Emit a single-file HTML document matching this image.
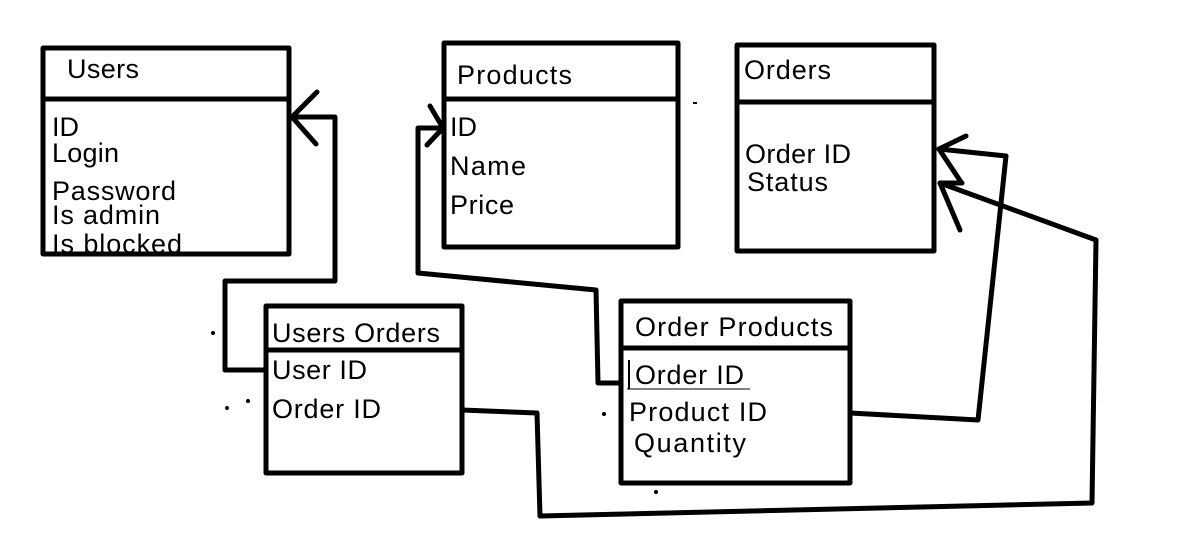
<!DOCTYPE html>
<html><head><meta charset="utf-8"><style>
body{margin:0;background:#fff;width:1180px;height:528px;overflow:hidden}
svg text{font-family:"Liberation Sans",sans-serif;font-size:27px;fill:#000}
</style></head><body>
<svg width="1180" height="528" viewBox="0 0 1180 528" xmlns="http://www.w3.org/2000/svg">
<g fill="none" stroke="#000" stroke-width="5" stroke-linecap="round" stroke-linejoin="round">
<rect x="43" y="48" width="246" height="206"/>
<line x1="43" y1="99" x2="289" y2="99"/>
<rect x="444" y="43" width="234" height="204"/>
<line x1="444" y1="99" x2="678" y2="99"/>
<rect x="737" y="45" width="197" height="206"/>
<line x1="737" y1="102" x2="934" y2="102"/>
<rect x="266" y="306" width="196" height="167"/>
<line x1="266" y1="350" x2="462" y2="350"/>
<rect x="621" y="301" width="229" height="182"/>
<line x1="621" y1="348" x2="850" y2="348"/>
<polyline points="266,370 225,370 225,281 335,281 335,117 292,117"/>
<line x1="292" y1="117" x2="317" y2="92"/>
<line x1="292" y1="117" x2="316" y2="144"/>
<polyline points="621,383 598,383 596,290 418,273 418,128 443,128"/>
<line x1="443" y1="128" x2="430" y2="106"/>
<line x1="443" y1="128" x2="427" y2="145"/>
<polyline points="850,413 978,420 1006,156 939,149"/>
<line x1="939" y1="149" x2="966" y2="136"/>
<line x1="939" y1="149" x2="961" y2="182"/>
<polyline points="462,410 537,413 540,516 1092,503 1096,240 940,183"/>
<line x1="940" y1="183" x2="962" y2="183"/>
<line x1="940" y1="183" x2="960" y2="230"/>
</g>
<line x1="627" y1="389" x2="750" y2="389" stroke="#000" stroke-width="1"/>
<line x1="629" y1="360" x2="629" y2="389" stroke="#000" stroke-width="2"/>
<g fill="#000">
<circle cx="213" cy="333" r="2"/><circle cx="227" cy="408" r="2"/><circle cx="248" cy="401" r="2"/>
<circle cx="604" cy="414" r="2"/><circle cx="656" cy="492" r="2"/><rect x="693" y="102" width="4" height="2"/>
</g>
<g textLength="">
<text x="67" y="78" textLength="72">Users</text>
<text x="52" y="136">ID</text>
<text x="52" y="162" textLength="67">Login</text>
<text x="52" y="200" textLength="124">Password</text>
<text x="52" y="224" textLength="108">Is admin</text>
<text x="52" y="253" textLength="130">Is blocked</text>
<text x="457" y="84" textLength="115">Products</text>
<text x="450" y="136">ID</text>
<text x="450" y="175" textLength="76">Name</text>
<text x="450" y="214" textLength="64">Price</text>
<text x="744" y="79" textLength="87">Orders</text>
<text x="745" y="163" textLength="106">Order ID</text>
<text x="747" y="191" textLength="81">Status</text>
<text x="272" y="342" textLength="168">Users Orders</text>
<text x="272" y="379" textLength="95">User ID</text>
<text x="272" y="418" textLength="109">Order ID</text>
<text x="635" y="336" textLength="198">Order Products</text>
<text x="635" y="384" textLength="109">Order ID</text>
<text x="629" y="421" textLength="138">Product ID</text>
<text x="634" y="452" textLength="112">Quantity</text>
</g>
</svg>
</body></html>
